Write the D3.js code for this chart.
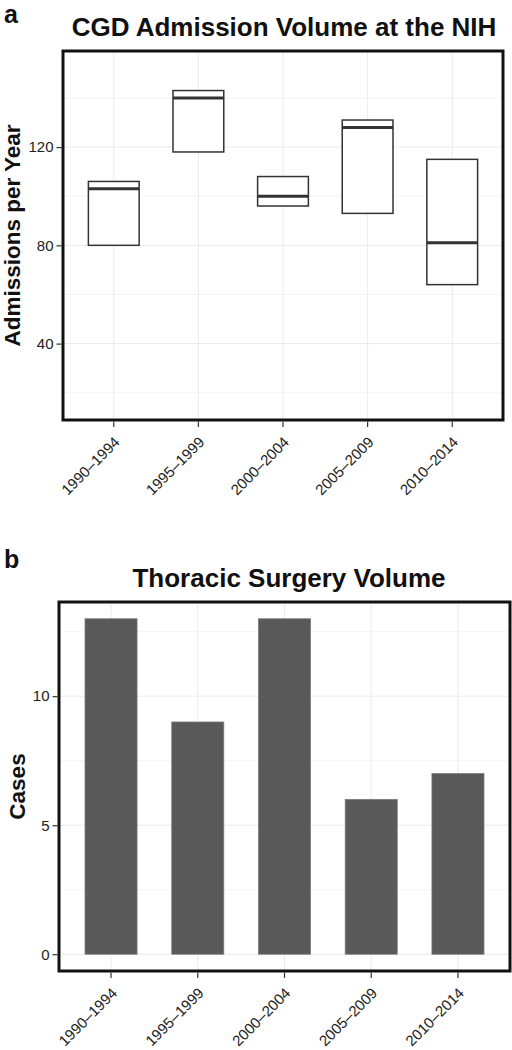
<!DOCTYPE html>
<html><head><meta charset="utf-8">
<script src="https://cdn.jsdelivr.net/npm/d3@7"></script>
<style>body{margin:0;background:#fff;} svg{display:block;font-family:"Liberation Sans",Arial,sans-serif;}</style>
</head><body>
<svg id="c" width="512" height="1050"></svg>
<script>
const categories = ["1990\u20131994","1995\u20131999","2000\u20132004","2005\u20132009","2010\u20132014"];
// Panel a: boxplot (lower hinge, median, upper hinge)
const boxLower  = [80, 118, 96, 93, 64];
const boxMedian = [103, 140, 100, 128, 81];
const boxUpper  = [106, 143, 108, 131, 115];
const aTicks = [40, 80, 120];
const aMinor = [20, 60, 100, 140];
// Panel b: bar chart
const cases = [13, 9, 13, 6, 7];
const bTicks = [0, 5, 10];
const bMinor = [2.5, 7.5, 12.5];

const svg = d3.select("#c");
const gridCol = "#ebebeb", minorCol = "#f4f4f4";

function panel(opt){
  const {x0,x1,y0,y1,domain,ticks,minor,title,titleX,titleY,ylab,ylabX,letter,letterY} = opt;
  const g = svg.append("g");
  const step = (x1-x0)/(categories.length-1+1.2);
  const x = d3.scalePoint().domain(categories).range([x0+0.6*step, x1-0.6*step]);
  const cx = i => x(categories[i]);
  const y = d3.scaleLinear().domain(domain).range([y1,y0]);
  g.selectAll(".mn").data(minor).join("line")
    .attr("x1",x0).attr("x2",x1).attr("y1",d=>y(d)).attr("y2",d=>y(d))
    .attr("stroke",minorCol).attr("stroke-width",1);
  g.selectAll(".mj").data(ticks).join("line")
    .attr("x1",x0).attr("x2",x1).attr("y1",d=>y(d)).attr("y2",d=>y(d))
    .attr("stroke",gridCol).attr("stroke-width",1);
  g.selectAll(".vx").data(categories).join("line")
    .attr("x1",(d,i)=>cx(i)).attr("x2",(d,i)=>cx(i)).attr("y1",y0).attr("y2",y1)
    .attr("stroke",gridCol).attr("stroke-width",1);
  opt.draw(g, cx, step, y);
  g.append("rect").attr("x",x0).attr("y",y0).attr("width",x1-x0).attr("height",y1-y0)
    .attr("fill","none").attr("stroke","#111").attr("stroke-width",3);
  const yax = g.append("g").attr("transform",`translate(${x0-1.5},0)`)
    .call(d3.axisLeft(y).tickValues(ticks).tickSize(5).tickPadding(3).tickFormat(d3.format("d")));
  yax.select(".domain").remove();
  yax.selectAll("line").attr("stroke","#333").attr("stroke-width",1.2);
  yax.attr("font-size",null).attr("font-family",null);
  yax.selectAll("text").attr("font-size",15).attr("fill","#222");
  const xg = g.append("g");
  xg.selectAll("line").data(categories).join("line")
    .attr("x1",(d,i)=>cx(i)).attr("x2",(d,i)=>cx(i)).attr("y1",y1+1.5).attr("y2",y1+7)
    .attr("stroke","#333").attr("stroke-width",1.2);
  xg.selectAll("text").data(categories).join("text")
    .attr("transform",(d,i)=>`translate(${cx(i)+7},${y1+23}) rotate(-45)`)
    .attr("text-anchor","end")
    .attr("font-size",15).attr("fill","#222").text(d=>d);
  svg.append("text").attr("x",titleX).attr("y",titleY).attr("text-anchor","middle")
    .attr("font-size",26).attr("font-weight","bold").attr("fill","#111").text(title);
  svg.append("text").attr("transform",`translate(${ylabX},${(y0+y1)/2}) rotate(-90)`)
    .attr("text-anchor","middle").attr("font-size",22.5).attr("font-weight","bold").attr("fill","#111").text(ylab);
  svg.append("text").attr("x",4).attr("y",letterY).attr("font-size",25).attr("font-weight","bold").attr("fill","#111").text(letter);
}

panel({x0:63,x1:503,y0:51,y1:420,domain:[8.9,159.1],ticks:aTicks,minor:aMinor,
  title:"CGD Admission Volume at the NIH",titleX:284,titleY:36,
  ylab:"Admissions per Year",ylabX:19.5,letter:"a",letterY:23,
  draw:(g,cx,step,y)=>{
    const w = step*0.6;
    g.selectAll(".box").data(categories).join("rect")
      .attr("x",(d,i)=>cx(i)-w/2).attr("width",w)
      .attr("y",(d,i)=>y(boxUpper[i])).attr("height",(d,i)=>y(boxLower[i])-y(boxUpper[i]))
      .attr("fill","#fff").attr("stroke","#333").attr("stroke-width",1.5);
    g.selectAll(".med").data(categories).join("line")
      .attr("x1",(d,i)=>cx(i)-w/2).attr("x2",(d,i)=>cx(i)+w/2)
      .attr("y1",(d,i)=>y(boxMedian[i])).attr("y2",(d,i)=>y(boxMedian[i]))
      .attr("stroke","#333").attr("stroke-width",3);
  }});

panel({x0:59,x1:510,y0:602,y1:971,domain:[-0.65,13.65],ticks:bTicks,minor:bMinor,
  title:"Thoracic Surgery Volume",titleX:289,titleY:587,
  ylab:"Cases",ylabX:25,letter:"b",letterY:568,
  draw:(g,cx,step,y)=>{
    const w = step*0.6;
    g.selectAll(".bar").data(categories).join("rect")
      .attr("x",(d,i)=>cx(i)-w/2).attr("width",w)
      .attr("y",(d,i)=>y(cases[i])).attr("height",(d,i)=>y(0)-y(cases[i]))
      .attr("fill","#595959").attr("stroke","#7a7a7a").attr("stroke-width",0.8);
  }});
</script>
</body></html>
